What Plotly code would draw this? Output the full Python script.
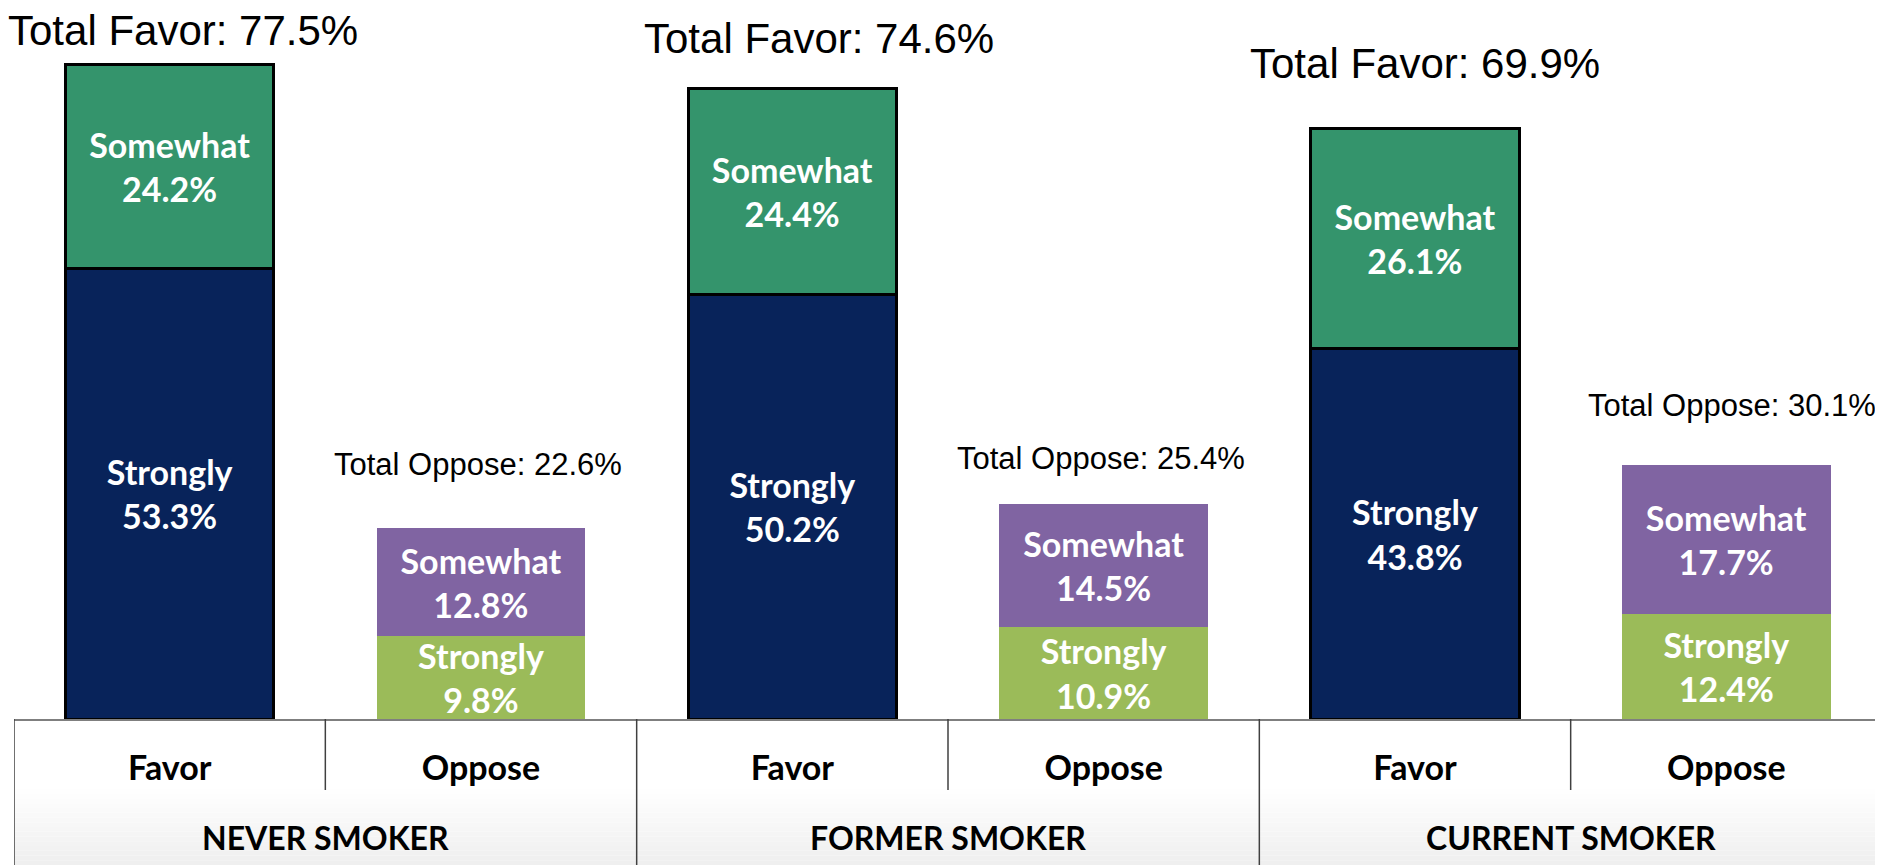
import plotly.graph_objects as go

# ---- data ----
groups = ["NEVER SMOKER", "FORMER SMOKER", "CURRENT SMOKER"]
responses = ["Favor", "Oppose"]
favor_strongly = [53.3, 50.2, 43.8]
favor_somewhat = [24.2, 24.4, 26.1]
oppose_strongly = [9.8, 10.9, 12.4]
oppose_somewhat = [12.8, 14.5, 17.7]
favor_total = [77.5, 74.6, 69.9]
oppose_total = [22.6, 25.4, 30.1]

# ---- styling / layout constants ----
# page has an 8px body margin, so the figure is 8px smaller than the window
W, H = 1875, 857
ML, MR, MT, MB = 6, 1, 0, 146
PLOT_H = H - MT - MB
YMAX = PLOT_H / 8.45
C_FAV_STRONG = "#08235A"
C_FAV_SOME = "#34946C"
C_OPP_STRONG = "#9BBB59"
C_OPP_SOME = "#8064A2"
BAR_FONT = dict(family="Lato", size=34, color="white", weight="bold")
TICK_FONT = dict(family="Lato", size=34, color="black", weight="bold")
GROUP_FONT = dict(family="Lato", size=32, color="black", weight="bold")
TOTAL_FAV_FONT = dict(family="Liberation Sans, Arial", size=42, color="black")
TOTAL_OPP_FONT = dict(family="Liberation Sans, Arial", size=31, color="black")
fav_label_shift = [(13, 34), (27, 50), (10, 65)]
opp_label_shift = [(-3, 64), (-3, 46), (6, 59)]

n = len(groups)
x_fav = [2 * i for i in range(n)]
x_opp = [2 * i + 1 for i in range(n)]

fig = go.Figure()
fav_line = dict(color="black", width=3)
fig.add_bar(x=x_fav, y=favor_strongly, name="Favor Strongly",
            marker=dict(color=C_FAV_STRONG, line=fav_line),
            text=[f"Strongly<br>{v}%" for v in favor_strongly])
fig.add_bar(x=x_fav, y=favor_somewhat, name="Favor Somewhat",
            marker=dict(color=C_FAV_SOME, line=fav_line),
            text=[f"Somewhat<br>{v}%" for v in favor_somewhat])
fig.add_bar(x=x_opp, y=oppose_strongly, name="Oppose Strongly",
            marker=dict(color=C_OPP_STRONG, line=dict(width=0)),
            text=[f"Strongly<br>{v}%" for v in oppose_strongly])
fig.add_bar(x=x_opp, y=oppose_somewhat, name="Oppose Somewhat",
            marker=dict(color=C_OPP_SOME, line=dict(width=0)),
            text=[f"Somewhat<br>{v}%" for v in oppose_somewhat])
fig.update_traces(width=0.67, textposition="inside", insidetextanchor="middle",
                  textfont=BAR_FONT, cliponaxis=False, hoverinfo="skip")

annotations = []
for i in range(n):
    dx, dy = fav_label_shift[i]
    annotations.append(dict(x=x_fav[i], y=favor_total[i], xref="x", yref="y",
                            text=f"Total Favor: {favor_total[i]}%", showarrow=False,
                            font=TOTAL_FAV_FONT, xanchor="center", yanchor="middle",
                            xshift=dx, yshift=dy))
    dx, dy = opp_label_shift[i]
    annotations.append(dict(x=x_opp[i], y=oppose_total[i], xref="x", yref="y",
                            text=f"Total Oppose: {oppose_total[i]}%", showarrow=False,
                            font=TOTAL_OPP_FONT, xanchor="center", yanchor="middle",
                            xshift=dx, yshift=dy))
    annotations.append(dict(x=(x_fav[i] + x_opp[i]) / 2, y=0, xref="x", yref="paper",
                            text=groups[i], showarrow=False, font=GROUP_FONT,
                            xanchor="center", yanchor="middle", yshift=-118))

def py(px):
    return -px / PLOT_H

shapes = []
# gradient background under the axis labels
steps = 16
top_px, bot_px = 70, MB
for k in range(steps):
    y0 = top_px + (bot_px - top_px) * k / steps
    y1 = top_px + (bot_px - top_px) * (k + 1) / steps
    g = int(255 - 16 * (k + 0.5) / steps)
    shapes.append(dict(type="rect", xref="paper", yref="paper", x0=0, x1=1,
                       y0=py(y0), y1=py(y1), line=dict(width=0),
                       fillcolor=f"rgb({g},{g},{g})", layer="below"))
# group dividers
for xv in [-0.5] + [2 * i + 1.5 for i in range(n)]:
    shapes.append(dict(type="line", xref="x", yref="paper", x0=xv, x1=xv,
                       y0=0, y1=py(MB), line=dict(color="#404040", width=1.5)))
# inner dividers between Favor and Oppose
for i in range(n):
    xv = 2 * i + 0.5
    shapes.append(dict(type="line", xref="x", yref="paper", x0=xv, x1=xv,
                       y0=0, y1=py(71), line=dict(color="#404040", width=1.5)))

fig.update_layout(
    width=W, height=H,
    margin=dict(l=ML, r=MR, t=MT, b=MB, pad=0),
    barmode="stack",
    showlegend=False,
    plot_bgcolor="white", paper_bgcolor="white",
    uniformtext=dict(mode="show", minsize=34),
    annotations=annotations,
    shapes=shapes,
    xaxis=dict(range=[-0.5, 2 * n - 0.5], tickmode="array",
               tickvals=x_fav + x_opp,
               ticktext=[responses[0]] * n + [responses[1]] * n,
               tickfont=TICK_FONT, showgrid=False, zeroline=False,
               showline=True, linecolor="#7f7f7f", linewidth=1.5,
               ticks="", ticklabelstandoff=18, fixedrange=True),
    yaxis=dict(range=[0, YMAX], visible=False, showgrid=False, zeroline=False,
               fixedrange=True),
)

fig.write_html("out.html", config={"displayModeBar": False})
